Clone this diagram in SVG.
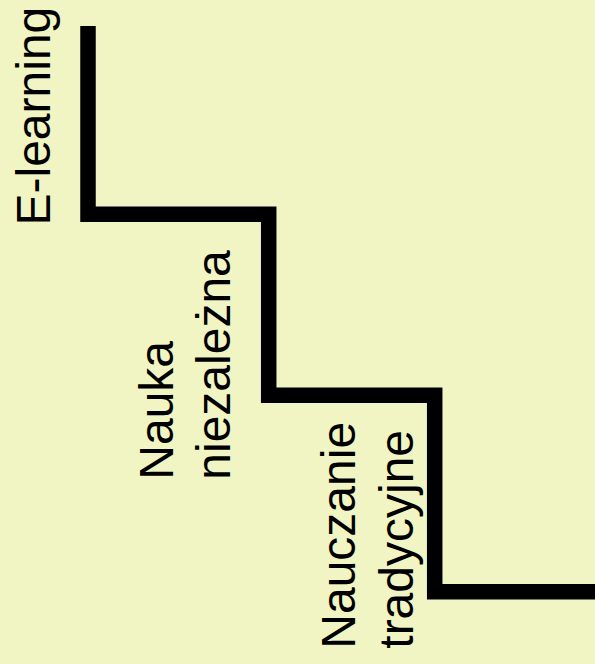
<svg xmlns="http://www.w3.org/2000/svg" width="595" height="664" viewBox="0 0 595 664">
<style>
.lbl{font-family:"Liberation Sans",Arial,sans-serif;font-size:48px;fill:#000}
.stair{fill:none;stroke:#000;stroke-width:15.5;stroke-linejoin:miter;stroke-linecap:butt}
</style>
<rect x="0" y="0" width="595" height="664" fill="#F1F5C3"/>
<g id="connectors">
<path class="stair" d="M88,26 V214.2 H268.7 V395.2 H434.7 V591.8 H596"/>
</g>
<g id="e-learning">
<text class="lbl" transform="translate(50,225.5) rotate(-90)">E-learning</text>
</g>
<g id="nauka-niezalezna">
<text class="lbl" transform="translate(173.3,479.7) rotate(-90)"><tspan x="0" y="0">Nauka</tspan><tspan x="0" y="56.7">niezależna</tspan></text>
</g>
<g id="nauczanie-tradycyjne">
<text class="lbl" transform="translate(355,648.7) rotate(-90)"><tspan x="0" y="0">Nauczanie</tspan><tspan x="0" y="58">tradycyjne</tspan></text>
</g>
</svg>
